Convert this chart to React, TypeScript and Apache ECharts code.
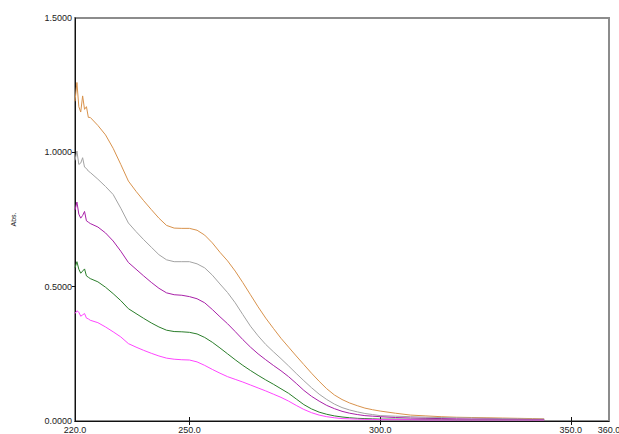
import React, { useEffect, useRef } from "react";
import * as echarts from "echarts";

const wavelengths = [
  220, 220.5, 221, 221.5, 222, 222.5, 223, 223.5, 224,
  226, 228, 230, 232, 234, 236, 238, 240, 242, 244, 246, 248, 250,
  252, 254, 256, 258, 260, 262, 264, 266, 268, 270, 272, 274, 276, 278, 280,
  282, 284, 286, 288, 290, 292, 294, 296, 298, 300,
  304, 308, 312, 316, 320, 324, 328, 332, 336, 340, 343,
];

const orange = [
  1.19, 1.26, 1.17, 1.15, 1.21, 1.16, 1.17, 1.13, 1.13,
  1.1, 1.065, 1.015, 0.955, 0.893, 0.855, 0.82, 0.787, 0.755, 0.728, 0.718, 0.717, 0.717,
  0.71, 0.692, 0.663, 0.628, 0.596, 0.558, 0.515, 0.47, 0.425, 0.383, 0.345, 0.308, 0.275, 0.242, 0.21,
  0.178, 0.148, 0.12, 0.097, 0.08, 0.067, 0.057, 0.048, 0.042, 0.037,
  0.029, 0.022, 0.019, 0.016, 0.014, 0.013, 0.012, 0.011, 0.01, 0.009, 0.008,
];

const gray = [
  0.97, 1.005, 0.955, 0.96, 0.98, 0.945, 0.94, 0.93, 0.925,
  0.9, 0.873, 0.843, 0.792, 0.737, 0.705, 0.675, 0.647, 0.619, 0.6, 0.593, 0.593, 0.593,
  0.585, 0.57, 0.543, 0.51, 0.478, 0.44, 0.396, 0.353, 0.317, 0.285, 0.258, 0.232, 0.205, 0.177, 0.15,
  0.124, 0.1, 0.08, 0.063, 0.05, 0.041, 0.034, 0.028, 0.024, 0.02,
  0.018, 0.016, 0.014, 0.013, 0.012, 0.011, 0.01, 0.009, 0.008, 0.007, 0.007,
];

const purple = [
  0.785, 0.815, 0.77, 0.755, 0.765, 0.78, 0.745, 0.74, 0.735,
  0.722, 0.7, 0.67, 0.632, 0.59, 0.565, 0.54, 0.516, 0.494, 0.477, 0.47, 0.468, 0.463,
  0.455, 0.44, 0.415, 0.388, 0.362, 0.333, 0.303, 0.275, 0.25, 0.228, 0.207, 0.187, 0.165, 0.14, 0.114,
  0.092, 0.074, 0.058, 0.046, 0.036, 0.029, 0.024, 0.02, 0.018, 0.016,
  0.013, 0.011, 0.01, 0.009, 0.008, 0.007, 0.007, 0.006, 0.006, 0.005, 0.005,
];

const green = [
  0.57, 0.593, 0.565, 0.55, 0.558, 0.566, 0.54, 0.535, 0.53,
  0.518, 0.498, 0.474, 0.448, 0.418, 0.4, 0.382, 0.365, 0.35, 0.338, 0.333, 0.332, 0.33,
  0.324, 0.311, 0.293, 0.272, 0.25, 0.228, 0.207, 0.188, 0.17, 0.153, 0.137, 0.12, 0.103, 0.082, 0.061,
  0.045, 0.033, 0.025, 0.019, 0.015, 0.012, 0.01, 0.009, 0.008, 0.007,
  0.007, 0.006, 0.006, 0.006, 0.005, 0.005, 0.005, 0.005, 0.005, 0.005, 0.005,
];

const pink = [
  0.4, 0.41, 0.405, 0.39, 0.395, 0.4, 0.383, 0.38, 0.375,
  0.366, 0.35, 0.332, 0.313, 0.288, 0.275, 0.263, 0.252, 0.242, 0.234, 0.23, 0.228, 0.227,
  0.22, 0.207, 0.192, 0.178, 0.165, 0.155, 0.145, 0.134, 0.123, 0.112, 0.1, 0.088, 0.074, 0.058, 0.043,
  0.031, 0.022, 0.016, 0.012, 0.009, 0.008, 0.007, 0.006, 0.006, 0.005,
  0.005, 0.005, 0.004, 0.004, 0.004, 0.004, 0.004, 0.004, 0.004, 0.004, 0.004,
];

const seriesList = [
  { name: "S1", color: "#d8924c", values: orange },
  { name: "S2", color: "#a3a3a3", values: gray },
  { name: "S3", color: "#a820a8", values: purple },
  { name: "S4", color: "#2a7d2a", values: green },
  { name: "S5", color: "#ff44ff", values: pink },
];

const xLabelValues = [220, 250, 300, 350, 360];
const xTickValues = [250, 300, 350];
const yLabelValues = [0, 0.5, 1.0, 1.5];
const yTickValues = [0.5, 1.0];

export default function App() {
  const ref = useRef<HTMLDivElement>(null);
  useEffect(() => {
    if (!ref.current) return;
    const chart = echarts.init(ref.current, null, { renderer: "svg" });
    const font = { fontFamily: "Liberation Sans, Arial, sans-serif", fontSize: 9, color: "#222" };
    chart.setOption({
      animation: false,
      backgroundColor: "#ffffff",
      grid: {
        left: 75,
        right: 10,
        top: 18,
        bottom: 13,
        outerBoundsMode: "none",
        containLabel: false,
        show: true,
        borderColor: "#8c8c8c",
        borderWidth: 2,
        backgroundColor: "transparent",
      },
      xAxis: [
        {
          type: "value",
          min: 220,
          max: 360,
          interval: 10,
          position: "bottom",
          splitLine: { show: false },
          axisLine: { show: true, onZero: false, lineStyle: { color: "#111", width: 1 } },
          axisTick: { show: true, inside: true, length: 4, customValues: xTickValues, lineStyle: { color: "#111" } },
          axisLabel: {
            ...font,
            margin: 4,
            customValues: xLabelValues,
            formatter: (v: number) => v.toFixed(1),
          },
        },
        {
          type: "value",
          min: 220,
          max: 360,
          interval: 10,
          position: "top",
          splitLine: { show: false },
          axisLine: { show: false },
          axisTick: { show: true, inside: true, length: 4, customValues: xTickValues, lineStyle: { color: "#111" } },
          axisLabel: { show: false },
        },
      ],
      yAxis: {
        type: "value",
        min: 0,
        max: 1.5,
        interval: 0.5,
        name: "Abs.",
        nameLocation: "middle",
        nameGap: 58,
        nameRotate: 90,
        nameTextStyle: { fontFamily: "Liberation Sans, Arial, sans-serif", fontSize: 7, color: "#222" },
        splitLine: { show: false },
        axisLine: { show: true, onZero: false, lineStyle: { color: "#111", width: 1 } },
        axisTick: { show: true, length: 3, customValues: yTickValues, lineStyle: { color: "#111" } },
        axisLabel: {
          ...font,
          margin: 3,
          customValues: yLabelValues,
          formatter: (v: number) => v.toFixed(4),
        },
      },
      series: seriesList.map((s) => ({
        name: s.name,
        type: "line",
        showSymbol: false,
        symbol: "none",
        xAxisIndex: 0,
        lineStyle: { color: s.color, width: 1 },
        itemStyle: { color: s.color },
        data: wavelengths.map((w, i) => [w, s.values[i]]),
      })),
    });
    return () => chart.dispose();
  }, []);
  return (
    <div
      ref={ref}
      style={{ position: "fixed", left: 0, top: 0, width: 619, height: 434, background: "#fff" }}
    />
  );
}
